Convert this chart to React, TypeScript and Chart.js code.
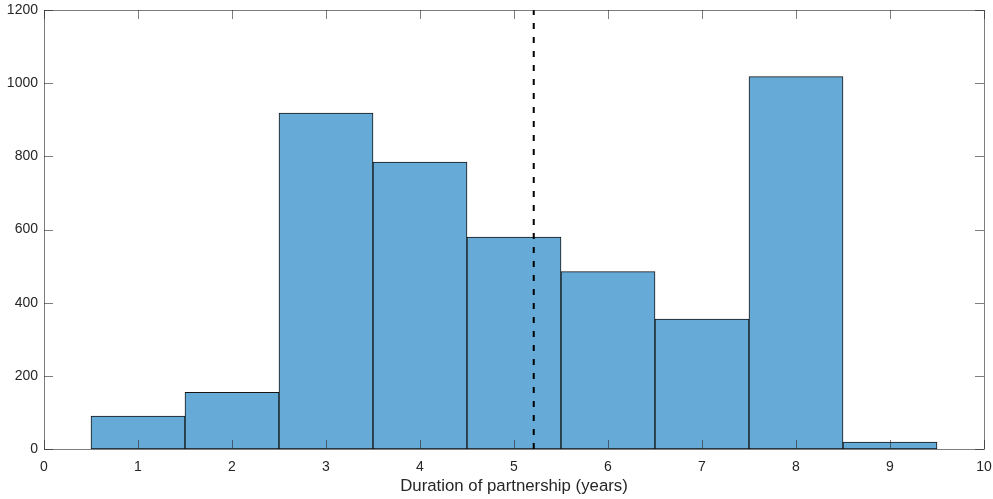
import { useEffect, useRef } from 'react';
import { Chart, registerables } from 'chart.js';

Chart.register(...registerables);

const binCenters = [1, 2, 3, 4, 5, 6, 7, 8, 9];
const counts = [90, 155, 918, 784, 579, 485, 355, 1018, 19];
const meanDuration = 5.21;
const xMin = 0;
const xMax = 10;
const yMin = 0;
const yMax = 1200;
const xLabel = 'Duration of partnership (years)';

const FONT = "'Liberation Sans', Arial, Helvetica, sans-serif";
const TEXT = '#262626';
const AXIS = 'rgba(38,38,38,0.6)';

const boxPlugin = {
  id: 'matlabBox',
  afterDraw(chart: any) {
    const { ctx, chartArea } = chart;
    const { left, right, top, bottom } = chartArea;
    const xs = chart.scales.x;
    const ys = chart.scales.y;
    const tl = 9;
    ctx.save();
    ctx.strokeStyle = AXIS;
    ctx.lineWidth = 1;
    ctx.beginPath();
    xs.ticks.forEach((t: any) => {
      const px = Math.round(xs.getPixelForValue(t.value)) + 0.5;
      ctx.moveTo(px, bottom);
      ctx.lineTo(px, bottom - tl);
      ctx.moveTo(px, top);
      ctx.lineTo(px, top + tl);
    });
    ys.ticks.forEach((t: any) => {
      const py = Math.round(ys.getPixelForValue(t.value)) + 0.5;
      ctx.moveTo(left, py);
      ctx.lineTo(left + tl, py);
      ctx.moveTo(right, py);
      ctx.lineTo(right - tl, py);
    });
    ctx.stroke();
    ctx.beginPath();
    ctx.rect(Math.round(left) + 0.5, Math.round(top) + 0.5, Math.round(right - left), Math.round(bottom - top));
    ctx.stroke();
    ctx.restore();
  },
};

export default function App() {
  const ref = useRef<HTMLCanvasElement>(null);
  useEffect(() => {
    const chart = new Chart(ref.current!, {
      type: 'bar',
      data: {
        datasets: [
          {
            type: 'line',
            data: [
              { x: meanDuration, y: yMin },
              { x: meanDuration, y: yMax },
            ],
            borderColor: '#000000',
            borderWidth: 2,
            borderDash: [6, 8],
            pointRadius: 0,
            fill: false,
            order: 0,
          } as any,
          {
            type: 'bar',
            data: binCenters.map((x, i) => ({ x, y: counts[i] })),
            backgroundColor: '#66AAD7',
            borderColor: '#141414',
            borderWidth: 1,
            borderSkipped: false,
            barPercentage: 1,
            categoryPercentage: 1,
            order: 1,
          } as any,
        ],
      },
      plugins: [boxPlugin],
      options: {
        responsive: false,
        animation: false,
        devicePixelRatio: 1,
        layout: { padding: { left: 0, top: 10, right: 9, bottom: 0 } },
        plugins: {
          legend: { display: false },
          tooltip: { enabled: false },
        },
        scales: {
          x: {
            type: 'linear',
            min: xMin,
            max: xMax,
            offset: false,
            grid: { display: false, drawTicks: false, offset: false },
            border: { display: false },
            ticks: {
              stepSize: 1,
              color: TEXT,
              font: { family: FONT, size: 14 },
              padding: 10,
              maxRotation: 0,
              callback: (v: any) => String(v),
            },
            title: {
              display: true,
              text: xLabel,
              color: TEXT,
              font: { family: FONT, size: 16.8 },
              padding: { top: 0, bottom: 3 },
            },
            afterFit: (s: any) => {
              s.height = 50;
              s.paddingLeft = 0;
              s.paddingRight = 0;
            },
          },
          y: {
            type: 'linear',
            min: yMin,
            max: yMax,
            grid: { display: false, drawTicks: false },
            border: { display: false },
            ticks: {
              stepSize: 200,
              color: TEXT,
              font: { family: FONT, size: 14 },
              padding: 6,
              callback: (v: any) => String(v),
            },
            afterFit: (s: any) => {
              s.width = 44;
              s.paddingTop = 0;
              s.paddingBottom = 0;
            },
          },
        },
      } as any,
    });
    return () => chart.destroy();
  }, []);
  return (
    <div style={{ position: 'absolute', left: 0, top: 0, width: 993, height: 499, background: '#ffffff' }}>
      <canvas ref={ref} width={993} height={499} style={{ display: 'block' }} />
    </div>
  );
}
